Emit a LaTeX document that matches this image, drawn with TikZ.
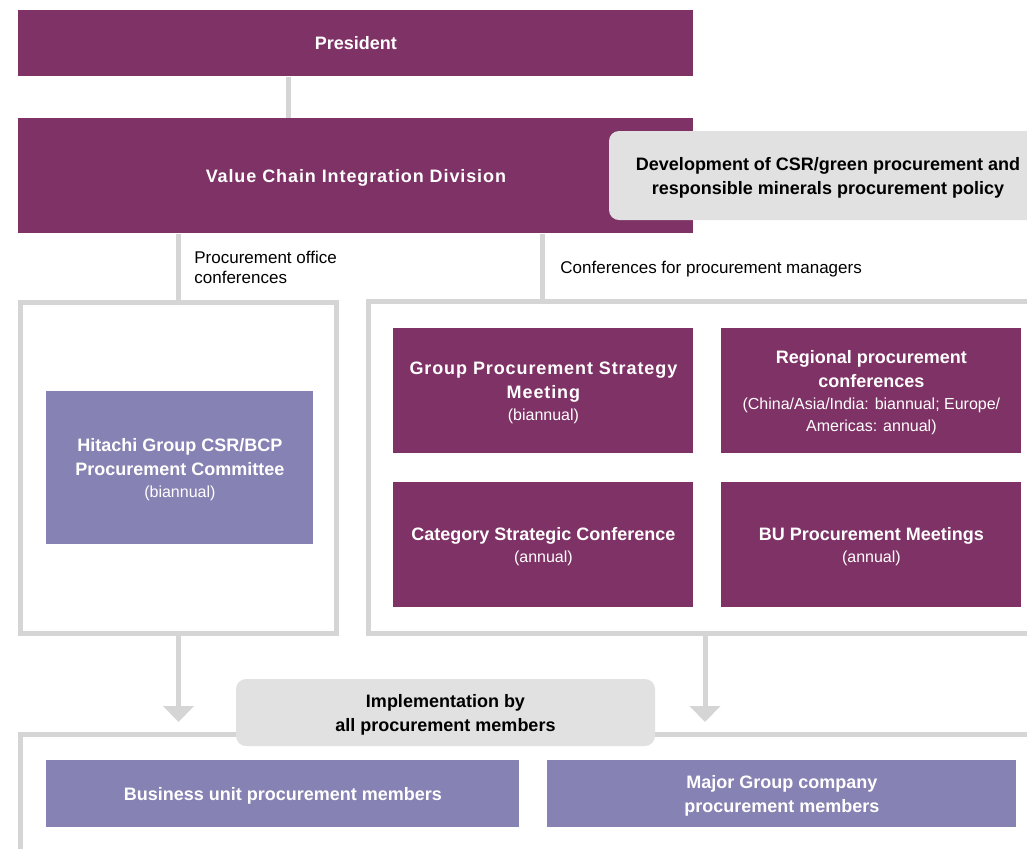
\documentclass[tikz,border=0pt]{standalone}
\usepackage{xcolor}
\usepackage{fontspec}
\setmainfont{Liberation Sans}
\usepackage{tikz}
\usetikzlibrary{arrows.meta}

\definecolor{vcpurple}{HTML}{7F3265}
\definecolor{vclilac}{HTML}{8682B3}
\definecolor{vcline}{HTML}{D5D5D5}
\definecolor{vcnote}{HTML}{E1E1E1}
\newcommand{\freqtext}{\fontsize{8}{11}\selectfont\mdseries}

\begin{document}
\begin{tikzpicture}[x=0.5pt, y=-0.5pt,
  headbox/.style={fill=vcpurple, text=white, align=center, inner sep=0pt, anchor=north west,
    text depth=0pt, font=\fontsize{9}{12}\selectfont\bfseries},
  lilacbox/.style={headbox, fill=vclilac},
  notebox/.style={fill=vcnote, text=black, align=center, inner sep=0pt, rounded corners=5pt,
    text depth=0pt, font=\fontsize{9}{12}\selectfont\bfseries},
  framebox/.style={draw=vcline, line width=2.5pt, outer sep=0pt, inner sep=0pt, anchor=north west},
  grayline/.style={draw=vcline, line width=2.5pt},
  downarrow/.style={grayline, -{Triangle[width=15pt, length=8pt]}, vcline},
  sidelabel/.style={inner sep=0pt, align=left, font=\fontsize{8.5}{10}\selectfont}]
\useasboundingbox (0,0) rectangle (1027,848);
\clip (0,0) rectangle (1027,848);

% top of the chart
\node[headbox, minimum width=337.5pt, minimum height=33pt] (pres) at (18,10) {President};
\node[headbox, minimum width=337.5pt, minimum height=57.5pt] (vcid) at (18,118)
  {\addfontfeature{LetterSpace=5}Value Chain Integration Division};
\coordinate (presjoin) at (288.5,0);
\draw[grayline] (pres.south -| presjoin) -- (vcid.north -| presjoin);
\node[notebox, minimum width=219pt, minimum height=44.5pt] (policy) at (828,175.5)
  {Development of CSR/green procurement and\\responsible minerals procurement policy};

% procurement office conferences
\node[framebox, minimum width=158pt, minimum height=165.75pt] (officebox) at (20.5,302) {};
\draw[grayline] (vcid.south -| officebox.north) -- (officebox.north);
\node[sidelabel, anchor=north west] (officelbl) at (194,251) {Procurement office\\conferences};
\node[lilacbox, minimum width=133.5pt, minimum height=76.5pt] (committee) at (46,391)
  {Hitachi Group CSR/BCP\\Procurement Committee\\[-1pt]{\freqtext (biannual)}};

% conferences for procurement managers
\coordinate (mgrtop) at (542.5,301.5);
\coordinate (mgrNW) at (368.5,301.5);
\coordinate (mgrSW) at (368.5,633.5);
\draw[grayline] (1040,301.5) -- (mgrNW) -- (mgrSW) -- (1040,633.5);
\draw[grayline] (vcid.south -| mgrtop) -- (mgrtop);
\node[sidelabel, anchor=west] (mgrlbl) at (560,269) {Conferences for procurement managers};

\node[headbox, minimum width=150pt, minimum height=62.5pt] (strategy) at (393,328)
  {\addfontfeature{LetterSpace=5}Group Procurement Strategy\\
   \addfontfeature{LetterSpace=5}Meeting\\[-1pt]{\freqtext (biannual)}};
\node[headbox, minimum width=150pt, minimum height=62.5pt] (regional) at (721,328)
  {Regional procurement\\conferences\\[-1pt]{\freqtext (China/Asia/India: biannual; Europe/}\\[-1pt]
   {\freqtext Americas: annual)}};
\node[headbox, minimum width=150pt, minimum height=62.5pt] (category) at (393,482)
  {Category Strategic Conference\\[-1pt]{\freqtext (annual)}};
\node[headbox, minimum width=150pt, minimum height=62.5pt] (bumeet) at (721,482)
  {BU Procurement Meetings\\[-1pt]{\freqtext (annual)}};

% down to all members
\coordinate (tipL) at (179.5,722);
\coordinate (arrR) at (705,633.5);
\coordinate (tipR) at (705,722);
\draw[downarrow] (officebox.south) -- (officebox.south |- tipL);
\draw[downarrow] (arrR) -- (tipR);

\coordinate (memNW) at (20.5,734.5);
\draw[grayline] (1040,734.5) -- (memNW) -- (20.5,860);
\node[notebox, minimum width=209.5pt, minimum height=33.5pt] (impl) at (445.5,712.5)
  {Implementation by\\all procurement members};
\node[lilacbox, minimum width=236.5pt, minimum height=33.5pt] (bumembers) at (46,760)
  {Business unit procurement members};
\node[lilacbox, minimum width=234.5pt, minimum height=33.5pt] (grpmembers) at (547,760)
  {Major Group company\\procurement members};
\end{tikzpicture}
\end{document}
